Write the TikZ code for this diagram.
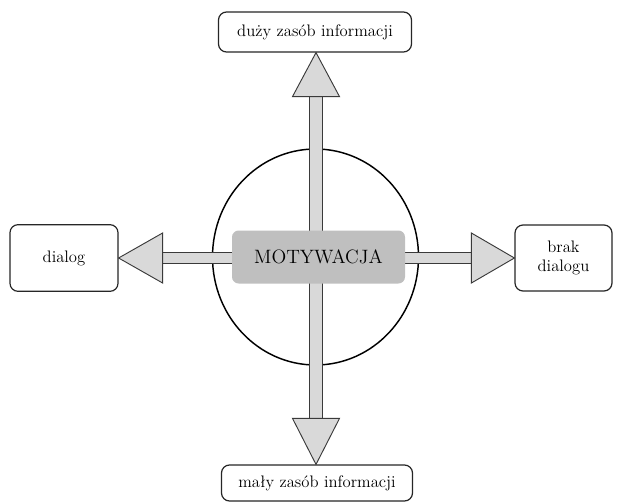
\documentclass[tikz,border=0pt]{standalone}
\usepackage{tikz}
\usetikzlibrary{calc,backgrounds}

\definecolor{shaftgray}{HTML}{D9D9D9}
\definecolor{linegray}{HTML}{3A3A3A}
\definecolor{hubgray}{HTML}{BFBFBF}

\tikzset{
    labelbox/.style={draw=black!85, line width=0.9pt, rounded corners=6pt, fill=white,
        align=center, inner sep=0pt, font=\fontsize{12.5}{14.5}\selectfont},
    hubbox/.style={fill=hubgray, rounded corners=5pt, inner sep=0pt,
        font=\fontsize{14.5}{16}\selectfont},
    shaft/.style={draw=linegray, line width=0.7pt, double=shaftgray},
    head/.style={draw=linegray, fill=shaftgray, line width=0.7pt, line join=miter}
}

\begin{document}
\begin{tikzpicture}[x=0.75pt, y=-0.75pt]
        \useasboundingbox (0,0) rectangle (620,502);
        % --- Nodes ---
        \node[labelbox, minimum width=144.75pt, minimum height=30pt] (duzy) at (315,32) {duży zasób informacji};
        \node[labelbox, minimum width=143.25pt, minimum height=27pt] (maly) at (317,483) {mały zasób informacji};
        \node[labelbox, minimum width=81pt, minimum height=50pt] (dialog) at (64,258) {dialog};
        \node[labelbox, minimum width=72.75pt, minimum height=49.5pt] (brak) at (563.5,258) {brak\\dialogu};
        \node[hubbox, minimum width=129.75pt, minimum height=39.75pt] (motywacja) at (318.5,257) {MOTYWACJA};
        \coordinate (hub) at (316,258);
        \begin{scope}[on background layer]
            % --- Circle ---
            \draw[line width=1.1pt] (315.5,257) ellipse [x radius=103, y radius=108];
            % --- Shafts ---
            \draw[shaft, double distance=7.5pt] (hub) -- ($(dialog.east)+(44,0)$);
            \draw[shaft, double distance=7.5pt] (hub) -- ($(brak.west)+(-43,0)$);
            \draw[shaft, double distance=9pt] (hub) -- ($(duzy.south)+(1,44)$);
            \draw[shaft, double distance=9pt] (hub) -- ($(maly.north)+(-1,-46)$);
            % --- Heads ---
            \filldraw[head] (dialog.east) -- ++(44,-25) -- ++(0,50) -- cycle;
            \filldraw[head] (brak.west) -- ++(-43,-25) -- ++(0,50) -- cycle;
            \filldraw[head] ($(duzy.south)+(1,0)$) -- ++(-23.5,44) -- ++(47,0) -- cycle;
            \filldraw[head] ($(maly.north)+(-1,0)$) -- ++(-23.5,-46) -- ++(47,0) -- cycle;
        \end{scope}
\end{tikzpicture}
\end{document}
